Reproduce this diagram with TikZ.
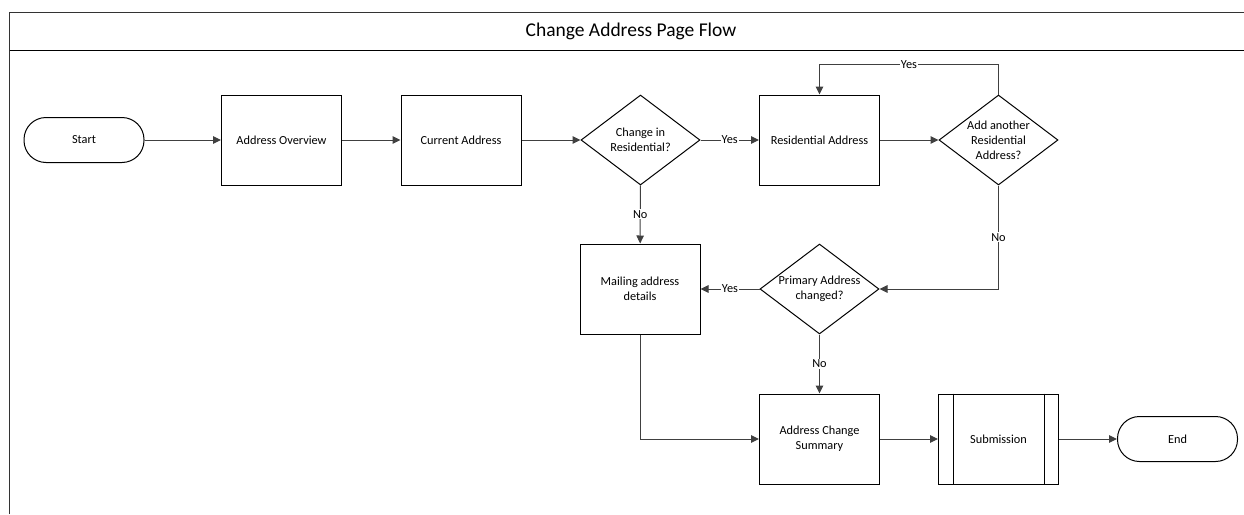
\documentclass[tikz,border=0pt]{standalone}
\usepackage{fontspec}
\setmainfont{Carlito}
\usetikzlibrary{arrows.meta,shapes.geometric}
\begin{document}
\begin{tikzpicture}[x=1pt,y=-1pt,
  txt/.style={font=\fontsize{12.3}{15}\selectfont, align=center},
  box/.style={txt, draw=black, line width=1pt, minimum width=120pt, minimum height=90pt, inner sep=0pt},
  term/.style={txt, draw=black, line width=1pt, rounded corners=22pt, minimum width=120pt, minimum height=45pt, inner sep=0pt},
  dec/.style={draw=black, line width=1pt, diamond, minimum width=119pt, minimum height=90pt, inner sep=0pt},
  conn/.style={draw=black!75, line width=1pt, -{Triangle[length=8pt,width=7.5pt]}},
  elbl/.style={txt, fill=white, inner sep=1pt},
  frame/.style={draw=black!80, line width=1.6pt}
]
\useasboundingbox (0,0) rectangle (1244,514);
% frame
\draw[frame] (9.5,514) -- (9.5,12.5) -- (1244,12.5);
\draw[draw=black, line width=1pt] (9.5,50.5) -- (1244,50.5);
\node[font=\fontsize{19.5}{22}\selectfont] (title) at (631,31) {Change Address Page Flow};
% nodes
\node[term] (start) at (84,140) {Start};
\node[box] (ov) at (281.5,140) {Address Overview};
\node[box] (cur) at (461,140) {Current Address};
\node[dec, label={[txt]center:Change in\\Residential?}] (chg) at (640.5,140) {};
\node[box] (res) at (819.5,140) {Residential Address};
\node[dec, label={[txt]center:Add another\\Residential\\Address?}] (add) at (998.5,140) {};
\node[dec, label={[txt]center:Primary Address\\changed?}] (prim) at (819.5,289) {};
\node[box] (mail) at (640,289) {Mailing address\\details};
\node[box] (sum) at (819.5,439) {Address Change\\Summary};
\node[box] (sub) at (998.5,439) {Submission};
\draw[line width=1pt] ([xshift=15pt]sub.north west) -- ([xshift=15pt]sub.south west);
\draw[line width=1pt] ([xshift=-15pt]sub.north east) -- ([xshift=-15pt]sub.south east);
\node[term] (end) at (1177.5,439) {End};
% connectors
\draw[conn] (start) -- (ov);
\draw[conn] (ov) -- (cur);
\draw[conn] (cur) -- (chg);
\draw[conn] (chg) -- node[elbl]{Yes} (res);
\draw[conn] (res) -- (add);
\draw[conn] (add.north) -- ++(0,-30) -| node[elbl, pos=0.25]{Yes} (res.north);
\draw[conn] (add.south) |- node[elbl, pos=0.25]{No} (prim.east);
\draw[conn] (prim) -- node[elbl]{Yes} (mail);
\draw[conn] (chg) -- node[elbl]{No} (mail);
\draw[conn] (prim) -- node[elbl]{No} (sum);
\draw[conn] (mail.south) |- (sum.west);
\draw[conn] (sum) -- (sub);
\draw[conn] (sub) -- (end);
\end{tikzpicture}
\end{document}
